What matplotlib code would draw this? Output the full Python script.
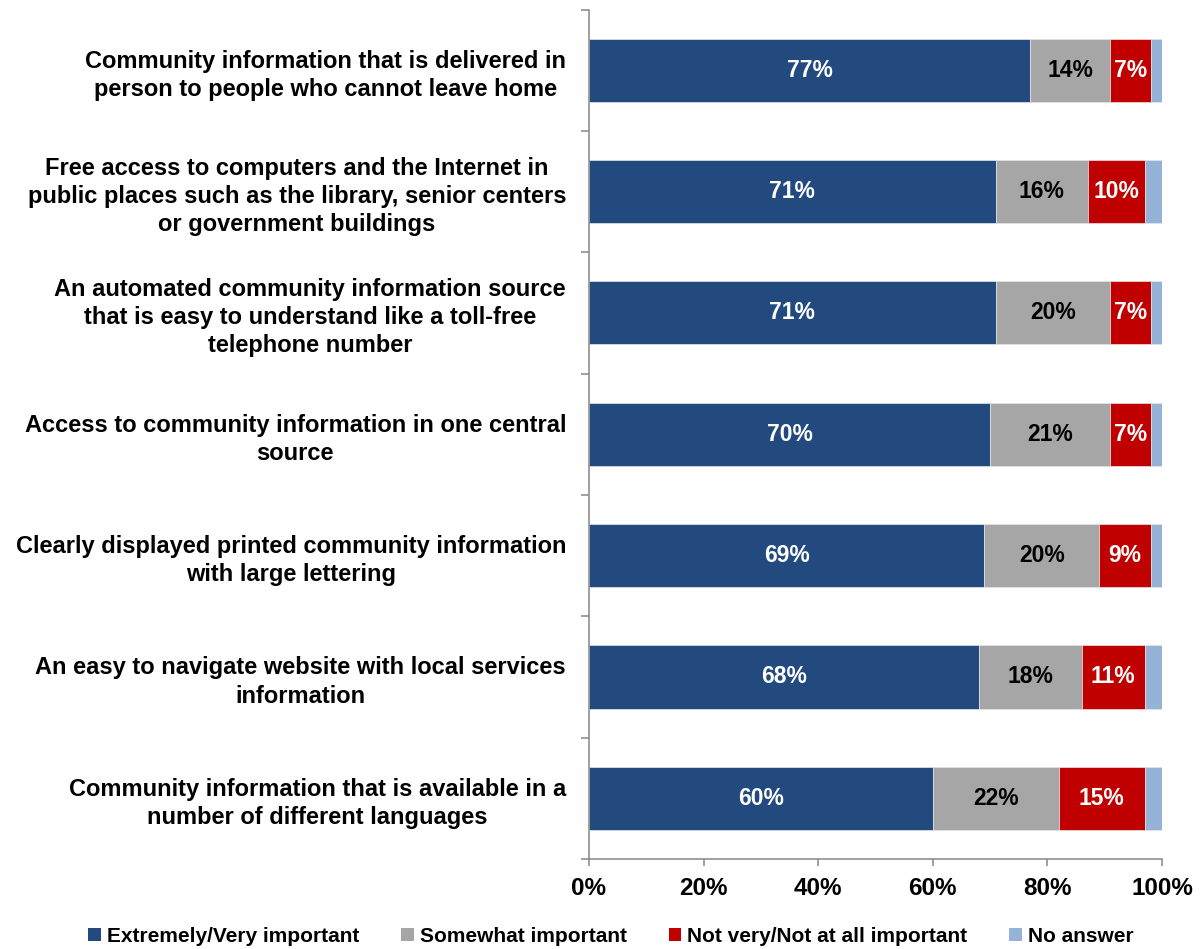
import matplotlib
matplotlib.use("Agg")
import matplotlib.pyplot as plt
import numpy as np
from matplotlib.patches import Patch

plt.rcParams['font.family'] = ['Liberation Sans', 'DejaVu Sans']
plt.rcParams['font.weight'] = 'bold'

# categories listed top to bottom
categories = [
    "Community information that is delivered in\nperson to people who cannot leave home",
    "Free access to computers and the Internet in\npublic places such as the library, senior centers\nor government buildings",
    "An automated community information source\nthat is easy to understand like a toll-free\ntelephone number",
    "Access to community information in one central\nsource",
    "Clearly displayed printed community information\nwith large lettering",
    "An easy to navigate website with local services\ninformation",
    "Community information that is available in a\nnumber of different languages",
]
extremely = [77, 71, 71, 70, 69, 68, 60]
somewhat = [14, 16, 20, 21, 20, 18, 22]
not_important = [7, 10, 7, 7, 9, 11, 15]
no_answer = [2, 3, 2, 2, 2, 3, 3]

series_names = ["Extremely/Very important", "Somewhat important",
                "Not very/Not at all important", "No answer"]
colors = ["#224A7E", "#A6A6A6", "#C00000", "#95B3D7"]
label_colors = ["white", "black", "white", None]

fig = plt.figure(figsize=(12, 9.49), dpi=100)
ax = fig.add_axes([589 / 1200, 1 - 859 / 949, (1162 - 589) / 1200, (859 - 9.5) / 949])

n = len(categories)
y = np.arange(n)[::-1]
left = np.zeros(n)
for vals, col, lc in zip([extremely, somewhat, not_important, no_answer], colors, label_colors):
    vals = np.array(vals)
    ax.barh(y, vals, left=left, height=0.52, color=col, edgecolor="#E6E6E6", linewidth=0.5)
    if lc is not None:
        for yi, l, v in zip(y, left, vals):
            ax.text(l + v / 2, yi, f"{v}%", ha="center", va="center",
                    color=lc, fontsize=16.5, fontweight="bold")
    left += vals

ax.set_xlim(0, 100)
ax.set_ylim(-0.5, n - 0.5)
ax.set_xticks(np.arange(0, 101, 20))
ax.set_xticklabels([f"{v}%" for v in range(0, 101, 20)], fontsize=17.5, fontweight="bold")
ax.set_yticks(y)
ax.set_yticklabels(categories, fontsize=17, fontweight="bold",
                   multialignment="center", linespacing=1.28)
ax.set_yticks(np.arange(-0.5, n, 1.0), minor=True)
ax.tick_params(axis="y", which="major", length=0, pad=16.5)
ax.tick_params(axis="y", which="minor", length=6, width=1.1, color="#868686")
ax.tick_params(axis="x", length=5, width=1.1, color="#868686", pad=8)

for s in ["top", "right"]:
    ax.spines[s].set_visible(False)
for s in ["left", "bottom"]:
    ax.spines[s].set_color("#868686")
    ax.spines[s].set_linewidth(1.1)

handles = [Patch(facecolor=c, edgecolor="none") for c in colors]
fig.legend(handles, series_names, loc="center", bbox_to_anchor=(611 / 1200, 1 - 936 / 949),
           ncol=4, frameon=False, prop={"size": 15, "weight": "bold"},
           handlelength=0.6, handleheight=0.6, handletextpad=0.3, columnspacing=2.0)

fig.savefig("out.png", dpi=100)
